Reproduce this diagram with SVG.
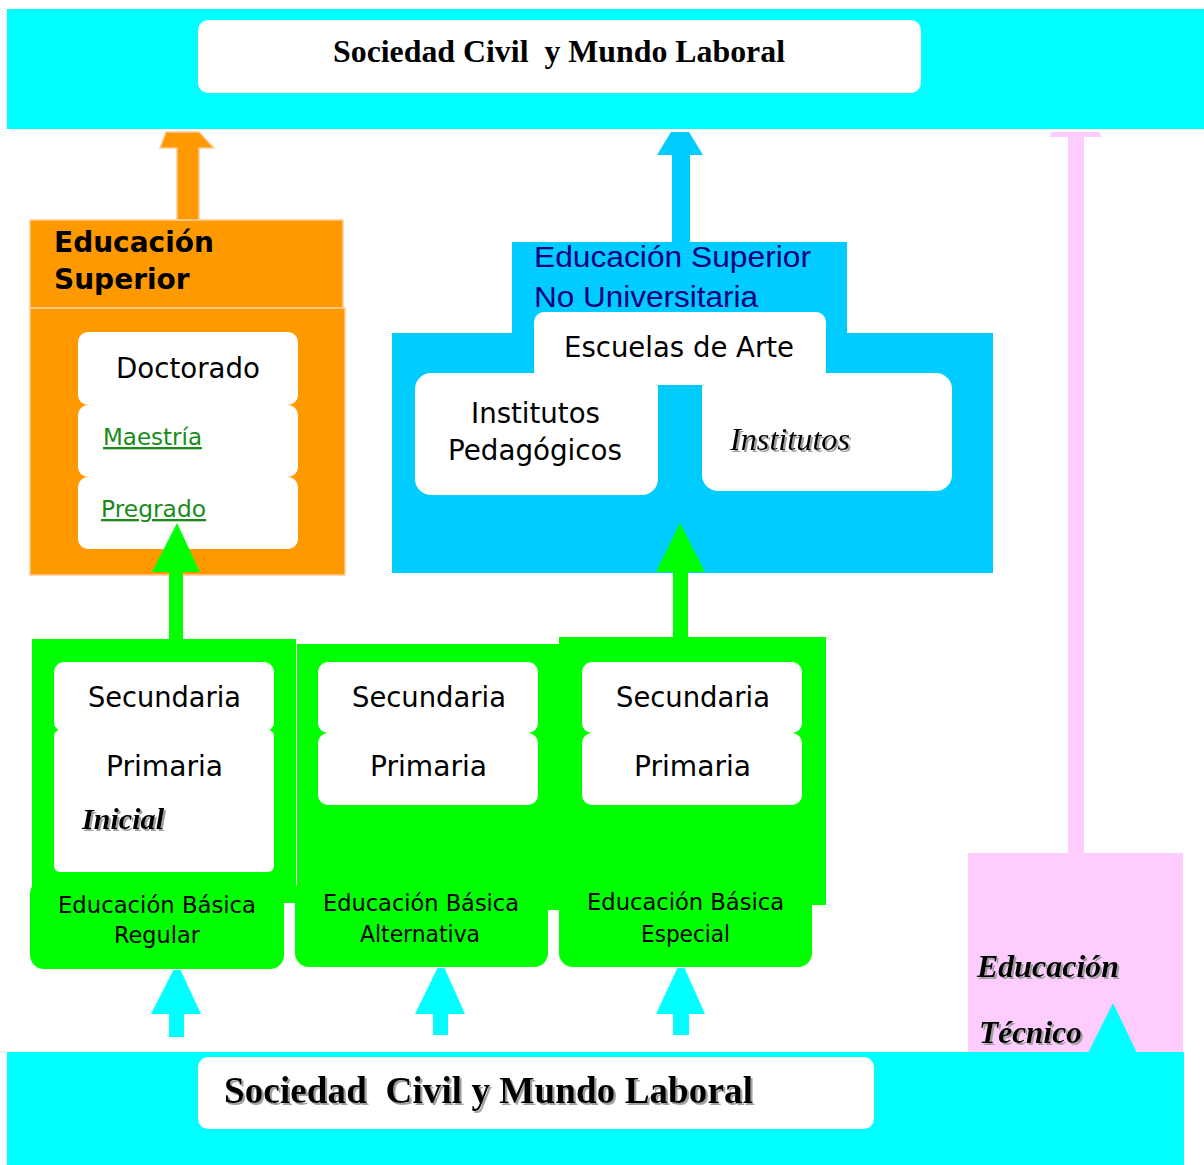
<svg xmlns="http://www.w3.org/2000/svg" width="1204" height="1165" viewBox="0 0 1204 1165">
<style>
.cyan{fill:#00FFFF}
.blue{fill:#00CCFF}
.green{fill:#00FF00}
.orange{fill:#FF9900;stroke:#FFCC99;stroke-width:1.5}
.pink{fill:#FFCCFF}
.white{fill:#FFFFFF}
.sans{font-family:"DejaVu Sans","Verdana",sans-serif;fill:#000}
.arial{font-family:"Liberation Sans",Arial,sans-serif}
.serif{font-family:"Liberation Serif","Times New Roman",serif;font-weight:bold;fill:#000}
.bi{font-family:"Liberation Serif","Times New Roman",serif;font-weight:bold;font-style:italic;fill:#000}
.it{font-family:"Liberation Serif","Times New Roman",serif;font-style:italic;font-weight:normal;fill:#000}
.link{font-family:"DejaVu Sans","Verdana",sans-serif;fill:#1A8A1A;text-decoration:underline}
</style>
<defs>
<filter id="shadow" x="-10%" y="-20%" width="130%" height="160%">
<feOffset in="SourceAlpha" dx="2" dy="2" result="off"/>
<feFlood flood-color="#a0a0a0"/>
<feComposite in2="off" operator="in" result="sh"/>
<feMerge><feMergeNode in="sh"/><feMergeNode in="SourceGraphic"/></feMerge>
</filter>
</defs>
<rect width="1204" height="1165" fill="#FFFFFF"/>

<g id="top-bar">
<rect class="cyan" x="7" y="9" width="1197" height="120"/>
<rect class="white" x="198" y="20" width="723" height="73" rx="10"/>
<text class="serif" x="333" y="62" font-size="32" textLength="452" lengthAdjust="spacingAndGlyphs" xml:space="preserve">Sociedad Civil  y Mundo Laboral</text>
</g>

<g id="educacion-superior">
<rect class="orange" x="30" y="220" width="313" height="88"/>
<rect class="orange" x="30" y="308" width="315" height="267"/>
<text class="sans" font-weight="bold" font-size="28" x="54" y="252">Educación</text>
<text class="sans" font-weight="bold" font-size="28" x="54" y="289">Superior</text>
<rect class="white" x="78" y="332" width="220" height="73" rx="10"/>
<rect class="white" x="78" y="405" width="220" height="72" rx="10"/>
<rect class="white" x="78" y="477" width="220" height="72" rx="10"/>
<text class="sans" font-size="28" x="116" y="378" textLength="144" lengthAdjust="spacingAndGlyphs">Doctorado</text>
<text class="link" font-size="23" x="103" y="445" textLength="99" lengthAdjust="spacingAndGlyphs">Maestría</text>
<text class="link" font-size="23" x="101" y="517" textLength="105" lengthAdjust="spacingAndGlyphs">Pregrado</text>
</g>

<g id="educacion-superior-no-universitaria">
<rect class="blue" x="512" y="242" width="335" height="91"/>
<rect class="blue" x="392" y="333" width="601" height="240"/>
<text class="arial" fill="#000080" font-size="30" x="534" y="267" textLength="277" lengthAdjust="spacingAndGlyphs">Educación Superior</text>
<text class="arial" fill="#000080" font-size="30" x="534" y="307" textLength="224" lengthAdjust="spacingAndGlyphs">No Universitaria</text>
<rect class="white" x="534" y="312" width="292" height="73" rx="10"/>
<rect class="white" x="415" y="373" width="243" height="122" rx="16"/>
<rect class="white" x="702" y="373" width="250" height="118" rx="16"/>
<rect class="white" x="534" y="373" width="292" height="12"/>
<text class="sans" font-size="28" x="564" y="357" textLength="230" lengthAdjust="spacingAndGlyphs">Escuelas de Arte</text>
<text class="sans" font-size="28" x="471" y="423" textLength="129" lengthAdjust="spacingAndGlyphs">Institutos</text>
<text class="sans" font-size="28" x="448" y="460" textLength="174" lengthAdjust="spacingAndGlyphs">Pedagógicos</text>
<text class="it" font-size="31" x="730" y="450" textLength="120" lengthAdjust="spacingAndGlyphs" filter="url(#shadow)">Institutos</text>
</g>

<g id="basica-regular">
<rect class="green" x="32" y="639" width="264" height="264"/>
<rect class="green" x="30" y="880" width="254" height="89" rx="14"/>
<rect class="white" x="54" y="662" width="220" height="70" rx="10"/>
<rect class="white" x="54" y="730" width="220" height="142" rx="6"/>
<text class="sans" font-size="28" x="164.5" y="707" text-anchor="middle" textLength="153" lengthAdjust="spacingAndGlyphs">Secundaria</text>
<text class="sans" font-size="28" x="164.5" y="776" text-anchor="middle" textLength="117" lengthAdjust="spacingAndGlyphs">Primaria</text>
<text class="bi" font-size="30" x="82" y="829" textLength="82" lengthAdjust="spacingAndGlyphs" filter="url(#shadow)">Inicial</text>
<text class="sans" font-size="22.5" x="157" y="913" text-anchor="middle" textLength="198" lengthAdjust="spacingAndGlyphs">Educación Básica</text>
<text class="sans" font-size="22.5" x="157" y="943" text-anchor="middle" textLength="86" lengthAdjust="spacingAndGlyphs">Regular</text>
</g>

<g id="basica-alternativa">
<rect class="green" x="297" y="644" width="263" height="266"/>
<rect class="green" x="295" y="878" width="253" height="89" rx="14"/>
<rect class="white" x="318" y="662" width="220" height="71" rx="10"/>
<rect class="white" x="318" y="733" width="220" height="72" rx="10"/>
<text class="sans" font-size="28" x="429" y="707" text-anchor="middle" textLength="154" lengthAdjust="spacingAndGlyphs">Secundaria</text>
<text class="sans" font-size="28" x="428.5" y="776" text-anchor="middle" textLength="117" lengthAdjust="spacingAndGlyphs">Primaria</text>
<text class="sans" font-size="22.5" x="421" y="911" text-anchor="middle" textLength="196" lengthAdjust="spacingAndGlyphs">Educación Básica</text>
<text class="sans" font-size="22.5" x="420" y="942" text-anchor="middle" textLength="120" lengthAdjust="spacingAndGlyphs">Alternativa</text>
</g>

<g id="basica-especial">
<rect class="green" x="559" y="637" width="267" height="268"/>
<rect class="green" x="559" y="878" width="253" height="89" rx="14"/>
<rect class="white" x="582" y="662" width="220" height="71" rx="10"/>
<rect class="white" x="582" y="733" width="220" height="72" rx="10"/>
<text class="sans" font-size="28" x="693" y="707" text-anchor="middle" textLength="154" lengthAdjust="spacingAndGlyphs">Secundaria</text>
<text class="sans" font-size="28" x="692.5" y="776" text-anchor="middle" textLength="117" lengthAdjust="spacingAndGlyphs">Primaria</text>
<text class="sans" font-size="22.5" x="685.5" y="910" text-anchor="middle" textLength="197" lengthAdjust="spacingAndGlyphs">Educación Básica</text>
<text class="sans" font-size="22.5" x="685.5" y="942" text-anchor="middle" textLength="89" lengthAdjust="spacingAndGlyphs">Especial</text>
</g>

<g id="educacion-tecnico">
<rect class="pink" x="968" y="853" width="215" height="199"/>
<text class="bi" font-size="31" x="977" y="977" textLength="142" lengthAdjust="spacingAndGlyphs" filter="url(#shadow)">Educación</text>
<text class="bi" font-size="31" x="979" y="1043" textLength="103" lengthAdjust="spacingAndGlyphs" filter="url(#shadow)">Técnico</text>
</g>

<g id="bottom-bar">
<rect class="cyan" x="7" y="1052" width="1177" height="113"/>
<rect class="white" x="198" y="1057" width="676" height="72" rx="10"/>
<text class="serif" x="224" y="1103" font-size="37" textLength="529" lengthAdjust="spacingAndGlyphs" xml:space="preserve" filter="url(#shadow)">Sociedad  Civil y Mundo Laboral</text>
</g>

<g id="connectors">
<polygon class="orange" points="160,148 166,132 199,132 214,148 199,148 199,220 177,220 177,148"/>
<polygon class="blue" points="657,155 671,132 689,132 703,155 690,155 690,242 672,242 672,155"/>
<polygon class="pink" points="1049,137 1052,132 1099,132 1102,137 1084,137 1084,853 1068,853 1068,137"/>
<polygon class="green" points="152,572 177,523 200,572 183,572 183,639 169,639 169,572"/>
<polygon class="green" points="656,572 680,523 705,572 688,572 688,637 673,637 673,572"/>
<polygon class="cyan" points="151,1014 173.5,970 180.5,970 201,1014 184,1014 184,1037 169,1037 169,1014"/>
<polygon class="cyan" points="415,1014 437.5,968 444.5,968 465,1014 448,1014 448,1035 433,1035 433,1014"/>
<polygon class="cyan" points="656,1014 677.5,968 684.5,968 705,1014 689,1014 689,1035 673,1035 673,1014"/>
<polygon class="cyan" points="1088,1053 1113,1003 1137,1053"/>
</g>
</svg>
